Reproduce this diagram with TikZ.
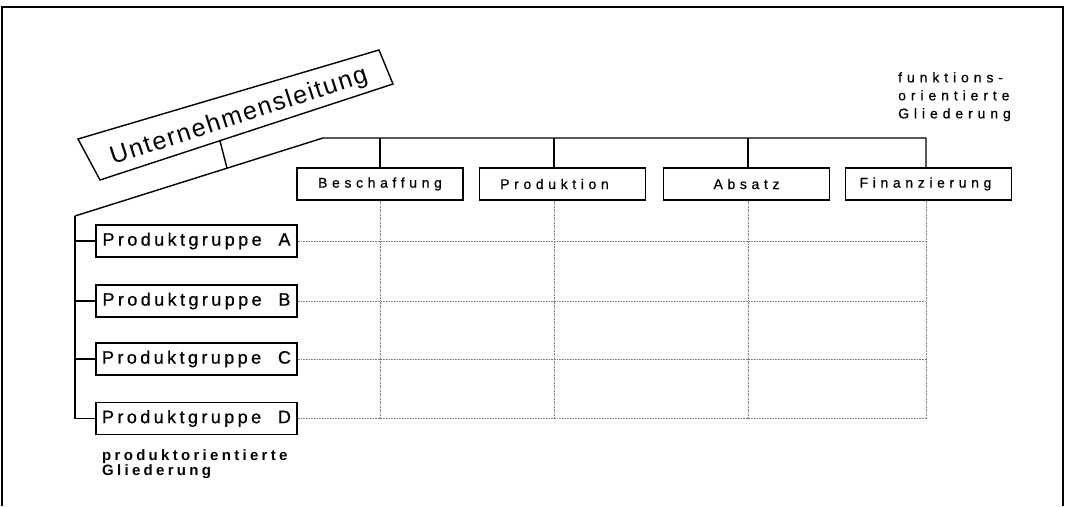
\documentclass[tikz,border=0pt]{standalone}
\usepackage{fontspec}
\setmainfont{Liberation Sans}
\newfontfamily\fsmall[LetterSpace=33,FakeBold=0.6]{Liberation Sans}
\newfontfamily\fside[LetterSpace=35,FakeBold=0.6]{Liberation Sans}
\newfontfamily\fpg[LetterSpace=19,FakeBold=0.6]{Liberation Sans}
\newfontfamily\fbig[LetterSpace=7]{Liberation Sans}
\newfontfamily\fprod[LetterSpace=22]{Liberation Sans}
\begin{document}
\begin{tikzpicture}[x=1pt,y=-1pt,
  line/.style={line width=1.4pt},
  funcbox/.style={draw,line width=1.4pt,minimum width=166pt,minimum height=32pt,inner sep=0pt,
    font=\fsmall\fontsize{14}{16}\selectfont},
  pgbox/.style={draw,line width=1.4pt,minimum width=201pt,minimum height=32pt,inner sep=0pt,
    font=\fpg\fontsize{18}{20}\selectfont},
  grid/.style={line width=0.6pt,gray,densely dotted}]
\useasboundingbox (0,0) rectangle (1068,506);
% frame
\draw[line width=1.2pt] (2,506) -- (2,7) -- (1063,7) -- (1063,506);
% top box (slanted)
\draw[line] (78,139) -- (379,50) -- (393,84) -- (100,180) -- cycle;
\node[rotate=18,font=\fbig\fontsize{25}{28}\selectfont,inner sep=0pt] (ul) at (239,117) {Unternehmensleitung};
\coordinate (ulb) at (220,141);
\coordinate (j) at (227,168);
\coordinate (p0) at (75,216);
\coordinate (p1) at (323,138);
% function boxes
\node[funcbox] (b) at (380,184) {Beschaffung};
\node[funcbox] (pr) at (562.5,184) {\hspace*{-16pt}Produktion};
\node[funcbox] (ab) at (746.5,184) {Absatz};
\node[funcbox] (fi) at (928.5,184) {\hspace*{-6pt}Finanzierung};
% product boxes
\node[pgbox] (pa) at (196.5,241) {Produktgruppe\ \ A};
\node[pgbox] (pb) at (196.5,301) {Produktgruppe\ \ B};
\node[pgbox] (pc) at (196.5,359) {Produktgruppe\ \ C};
\node[pgbox] (pd) at (196.5,418.5) {Produktgruppe\ \ D};
% drop coordinates
\coordinate (d1) at (380,138);
\coordinate (d2) at (554,138);
\coordinate (d3) at (748,138);
\coordinate (d4) at (926,138);
% connectors
\draw[line] (ulb) -- (j);
\draw[line] (p0) -- (p1) -- (d4) -- (d4 |- fi.north);
\draw[line] (d1) -- (d1 |- b.north);
\draw[line] (d2) -- (d2 |- pr.north);
\draw[line] (d3) -- (d3 |- ab.north);
\draw[line] (p0) |- (pd.west);
\draw[line] (p0 |- pa.west) -- (pa.west);
\draw[line] (p0 |- pb.west) -- (pb.west);
\draw[line] (p0 |- pc.west) -- (pc.west);
% dotted matrix
\coordinate (gend) at (926,418.5);
\foreach \r in {pa,pb,pc,pd} \draw[grid] (\r.east) -- (\r.east -| gend);
\draw[grid] (d1 |- b.south) -- (d1 |- gend);
\draw[grid] (d2 |- pr.south) -- (d2 |- gend);
\draw[grid] (d3 |- ab.south) -- (d3 |- gend);
\draw[grid] (d4 |- fi.south) -- (gend);
% labels
\node[anchor=north west,align=left,inner sep=0pt,font=\fside\fontsize{14}{18}\selectfont] (fl) at (898,72) {funktions-\\orientierte\\Gliederung};
\node[anchor=north west,align=left,inner sep=0pt,font=\fprod\bfseries\fontsize{15}{15}\selectfont] (pl) at (102,449) {produktorientierte\\Gliederung};
\end{tikzpicture}
\end{document}
